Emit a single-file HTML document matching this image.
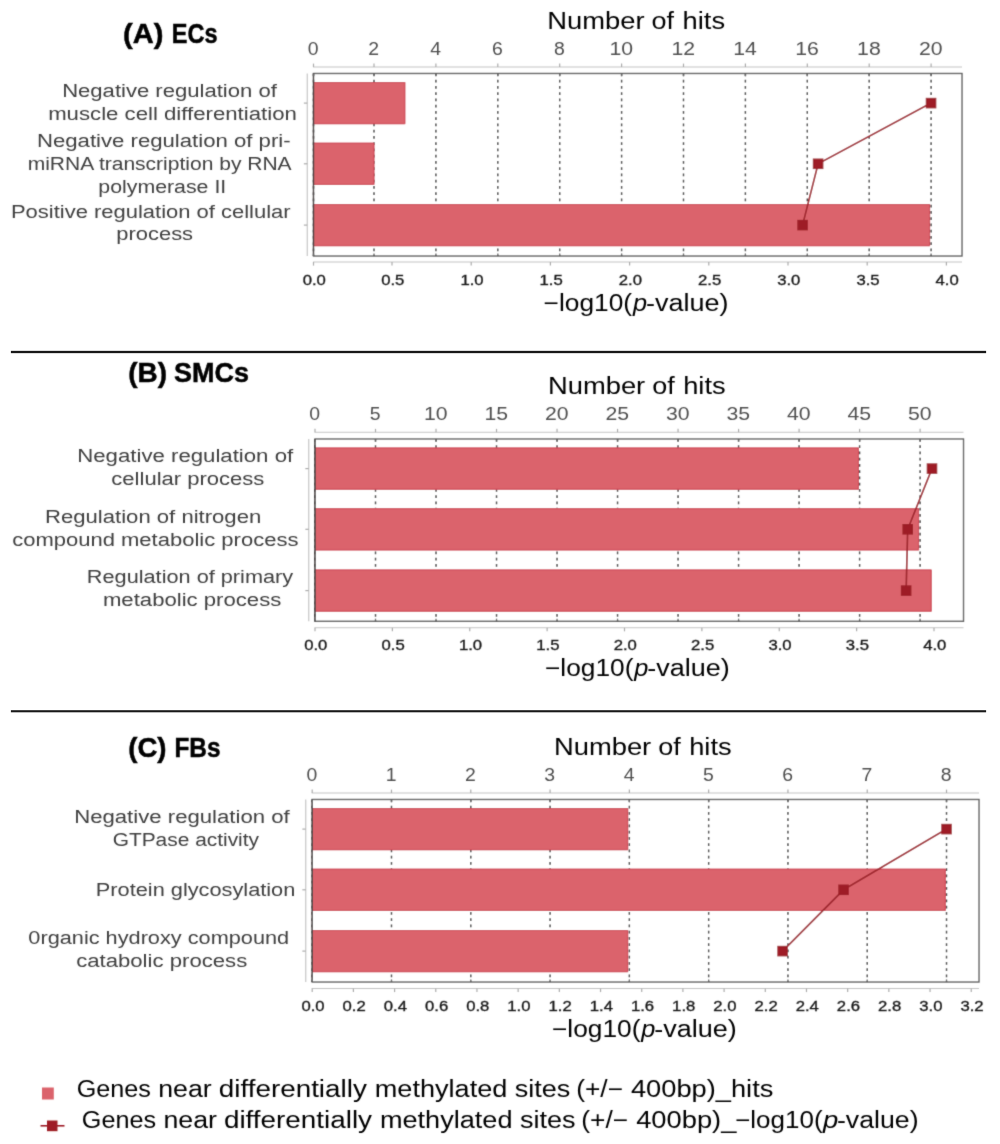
<!DOCTYPE html>
<html lang="en">
<head>
<meta charset="utf-8">
<title>GO enrichment: ECs, SMCs, FBs</title>
<style>
html,body{margin:0;padding:0;background:#fff;}
body{width:1000px;height:1144px;overflow:hidden;font-family:"Liberation Sans",sans-serif;}
svg{display:block;}
text{font-family:"Liberation Sans",sans-serif;white-space:pre;}
</style>
</head>
<body>
<svg width="1000" height="1144" viewBox="0 0 1000 1144" font-family="'Liberation Sans', sans-serif">
<defs><filter id="soft" filterUnits="userSpaceOnUse" x="0" y="0" width="1000" height="1144"><feConvolveMatrix order="3" kernelMatrix="0.02 0.09 0.02 0.09 0.56 0.09 0.02 0.09 0.02" divisor="1" edgeMode="none" preserveAlpha="false"/></filter></defs>
<rect width="1000" height="1144" fill="#fff"/>
<rect x="10.9" y="350.85" width="975.2" height="2.3" fill="#181818"/>
<rect x="10.9" y="710.2" width="975.2" height="2.1" fill="#181818"/>
<g filter="url(#soft)">
<rect x="313.5" y="73.5" width="648.5" height="182.5" fill="#fff"/>
<line x1="313.50" y1="73.5" x2="313.50" y2="256" stroke="#363636" stroke-width="1.45" stroke-dasharray="2.85 3.4"/>
<line x1="374.00" y1="73.5" x2="374.00" y2="256" stroke="#363636" stroke-width="1.45" stroke-dasharray="2.85 3.4"/>
<line x1="435.90" y1="73.5" x2="435.90" y2="256" stroke="#363636" stroke-width="1.45" stroke-dasharray="2.85 3.4"/>
<line x1="497.80" y1="73.5" x2="497.80" y2="256" stroke="#363636" stroke-width="1.45" stroke-dasharray="2.85 3.4"/>
<line x1="559.70" y1="73.5" x2="559.70" y2="256" stroke="#363636" stroke-width="1.45" stroke-dasharray="2.85 3.4"/>
<line x1="621.60" y1="73.5" x2="621.60" y2="256" stroke="#363636" stroke-width="1.45" stroke-dasharray="2.85 3.4"/>
<line x1="683.50" y1="73.5" x2="683.50" y2="256" stroke="#363636" stroke-width="1.45" stroke-dasharray="2.85 3.4"/>
<line x1="745.40" y1="73.5" x2="745.40" y2="256" stroke="#363636" stroke-width="1.45" stroke-dasharray="2.85 3.4"/>
<line x1="807.30" y1="73.5" x2="807.30" y2="256" stroke="#363636" stroke-width="1.45" stroke-dasharray="2.85 3.4"/>
<line x1="869.20" y1="73.5" x2="869.20" y2="256" stroke="#363636" stroke-width="1.45" stroke-dasharray="2.85 3.4"/>
<line x1="931.10" y1="73.5" x2="931.10" y2="256" stroke="#363636" stroke-width="1.45" stroke-dasharray="2.85 3.4"/>
<rect x="313.50" y="82.00" width="91.80" height="42.20" fill="#DB646C"/>
<path d="M313.50 82.50H404.80V123.70H313.50" fill="none" stroke="#CC3E50" stroke-width="1" opacity="0.85"/>
<rect x="313.50" y="142.70" width="60.90" height="42.20" fill="#DB646C"/>
<path d="M313.50 143.20H373.90V184.40H313.50" fill="none" stroke="#CC3E50" stroke-width="1" opacity="0.85"/>
<rect x="313.50" y="204.00" width="616.60" height="42.20" fill="#DB646C"/>
<path d="M313.50 204.50H929.60V245.70H313.50" fill="none" stroke="#CC3E50" stroke-width="1" opacity="0.85"/>
<rect x="313.5" y="73.5" width="648.5" height="182.5" fill="none" stroke="#626262" stroke-width="1.4"/>
<line x1="313.5" y1="73.5" x2="313.5" y2="256" stroke="#3a3030" stroke-width="1.2" opacity="0.75"/>
<line x1="313.0" y1="67" x2="962" y2="67" stroke="#C4C4C4" stroke-width="1.15"/>
<line x1="313.0" y1="262" x2="962" y2="262" stroke="#C4C4C4" stroke-width="1.15"/>
<line x1="307.25" y1="73.5" x2="307.25" y2="256" stroke="#C4C4C4" stroke-width="1.15"/>
<line x1="313.50" y1="63.6" x2="313.50" y2="67" stroke="#ACACAC" stroke-width="1.2"/>
<line x1="313.50" y1="73.5" x2="313.50" y2="76.1" stroke="#626262" stroke-width="1.3"/>
<line x1="313.50" y1="253.4" x2="313.50" y2="256" stroke="#626262" stroke-width="1.3"/>
<text x="313.20" y="55.40" font-size="19.2" fill="#505050" font-weight="normal" text-anchor="middle" textLength="10.80" lengthAdjust="spacingAndGlyphs">0</text>
<line x1="374.00" y1="63.6" x2="374.00" y2="67" stroke="#ACACAC" stroke-width="1.2"/>
<line x1="374.00" y1="73.5" x2="374.00" y2="76.1" stroke="#626262" stroke-width="1.3"/>
<line x1="374.00" y1="253.4" x2="374.00" y2="256" stroke="#626262" stroke-width="1.3"/>
<text x="373.70" y="55.40" font-size="19.2" fill="#505050" font-weight="normal" text-anchor="middle" textLength="10.80" lengthAdjust="spacingAndGlyphs">2</text>
<line x1="435.90" y1="63.6" x2="435.90" y2="67" stroke="#ACACAC" stroke-width="1.2"/>
<line x1="435.90" y1="73.5" x2="435.90" y2="76.1" stroke="#626262" stroke-width="1.3"/>
<line x1="435.90" y1="253.4" x2="435.90" y2="256" stroke="#626262" stroke-width="1.3"/>
<text x="435.60" y="55.40" font-size="19.2" fill="#505050" font-weight="normal" text-anchor="middle" textLength="10.80" lengthAdjust="spacingAndGlyphs">4</text>
<line x1="497.80" y1="63.6" x2="497.80" y2="67" stroke="#ACACAC" stroke-width="1.2"/>
<line x1="497.80" y1="73.5" x2="497.80" y2="76.1" stroke="#626262" stroke-width="1.3"/>
<line x1="497.80" y1="253.4" x2="497.80" y2="256" stroke="#626262" stroke-width="1.3"/>
<text x="497.50" y="55.40" font-size="19.2" fill="#505050" font-weight="normal" text-anchor="middle" textLength="10.80" lengthAdjust="spacingAndGlyphs">6</text>
<line x1="559.70" y1="63.6" x2="559.70" y2="67" stroke="#ACACAC" stroke-width="1.2"/>
<line x1="559.70" y1="73.5" x2="559.70" y2="76.1" stroke="#626262" stroke-width="1.3"/>
<line x1="559.70" y1="253.4" x2="559.70" y2="256" stroke="#626262" stroke-width="1.3"/>
<text x="559.40" y="55.40" font-size="19.2" fill="#505050" font-weight="normal" text-anchor="middle" textLength="10.80" lengthAdjust="spacingAndGlyphs">8</text>
<line x1="621.60" y1="63.6" x2="621.60" y2="67" stroke="#ACACAC" stroke-width="1.2"/>
<line x1="621.60" y1="73.5" x2="621.60" y2="76.1" stroke="#626262" stroke-width="1.3"/>
<line x1="621.60" y1="253.4" x2="621.60" y2="256" stroke="#626262" stroke-width="1.3"/>
<text x="621.30" y="55.40" font-size="19.2" fill="#505050" font-weight="normal" text-anchor="middle" textLength="23.60" lengthAdjust="spacingAndGlyphs">10</text>
<line x1="683.50" y1="63.6" x2="683.50" y2="67" stroke="#ACACAC" stroke-width="1.2"/>
<line x1="683.50" y1="73.5" x2="683.50" y2="76.1" stroke="#626262" stroke-width="1.3"/>
<line x1="683.50" y1="253.4" x2="683.50" y2="256" stroke="#626262" stroke-width="1.3"/>
<text x="683.20" y="55.40" font-size="19.2" fill="#505050" font-weight="normal" text-anchor="middle" textLength="23.60" lengthAdjust="spacingAndGlyphs">12</text>
<line x1="745.40" y1="63.6" x2="745.40" y2="67" stroke="#ACACAC" stroke-width="1.2"/>
<line x1="745.40" y1="73.5" x2="745.40" y2="76.1" stroke="#626262" stroke-width="1.3"/>
<line x1="745.40" y1="253.4" x2="745.40" y2="256" stroke="#626262" stroke-width="1.3"/>
<text x="745.10" y="55.40" font-size="19.2" fill="#505050" font-weight="normal" text-anchor="middle" textLength="23.60" lengthAdjust="spacingAndGlyphs">14</text>
<line x1="807.30" y1="63.6" x2="807.30" y2="67" stroke="#ACACAC" stroke-width="1.2"/>
<line x1="807.30" y1="73.5" x2="807.30" y2="76.1" stroke="#626262" stroke-width="1.3"/>
<line x1="807.30" y1="253.4" x2="807.30" y2="256" stroke="#626262" stroke-width="1.3"/>
<text x="807.00" y="55.40" font-size="19.2" fill="#505050" font-weight="normal" text-anchor="middle" textLength="23.60" lengthAdjust="spacingAndGlyphs">16</text>
<line x1="869.20" y1="63.6" x2="869.20" y2="67" stroke="#ACACAC" stroke-width="1.2"/>
<line x1="869.20" y1="73.5" x2="869.20" y2="76.1" stroke="#626262" stroke-width="1.3"/>
<line x1="869.20" y1="253.4" x2="869.20" y2="256" stroke="#626262" stroke-width="1.3"/>
<text x="868.90" y="55.40" font-size="19.2" fill="#505050" font-weight="normal" text-anchor="middle" textLength="23.60" lengthAdjust="spacingAndGlyphs">18</text>
<line x1="931.10" y1="63.6" x2="931.10" y2="67" stroke="#ACACAC" stroke-width="1.2"/>
<line x1="931.10" y1="73.5" x2="931.10" y2="76.1" stroke="#626262" stroke-width="1.3"/>
<line x1="931.10" y1="253.4" x2="931.10" y2="256" stroke="#626262" stroke-width="1.3"/>
<text x="930.80" y="55.40" font-size="19.2" fill="#505050" font-weight="normal" text-anchor="middle" textLength="23.60" lengthAdjust="spacingAndGlyphs">20</text>
<line x1="313.50" y1="262" x2="313.50" y2="265.6" stroke="#ACACAC" stroke-width="1.2"/>
<text x="314.30" y="285.00" font-size="14" fill="#1A1A1A" font-weight="normal" text-anchor="middle" textLength="23.20" lengthAdjust="spacingAndGlyphs" stroke="#1A1A1A" stroke-width="0.32">0.0</text>
<line x1="392.00" y1="262" x2="392.00" y2="265.6" stroke="#ACACAC" stroke-width="1.2"/>
<text x="392.80" y="285.00" font-size="14" fill="#1A1A1A" font-weight="normal" text-anchor="middle" textLength="23.20" lengthAdjust="spacingAndGlyphs" stroke="#1A1A1A" stroke-width="0.32">0.5</text>
<line x1="471.20" y1="262" x2="471.20" y2="265.6" stroke="#ACACAC" stroke-width="1.2"/>
<text x="472.00" y="285.00" font-size="14" fill="#1A1A1A" font-weight="normal" text-anchor="middle" textLength="23.20" lengthAdjust="spacingAndGlyphs" stroke="#1A1A1A" stroke-width="0.32">1.0</text>
<line x1="550.40" y1="262" x2="550.40" y2="265.6" stroke="#ACACAC" stroke-width="1.2"/>
<text x="551.20" y="285.00" font-size="14" fill="#1A1A1A" font-weight="normal" text-anchor="middle" textLength="23.20" lengthAdjust="spacingAndGlyphs" stroke="#1A1A1A" stroke-width="0.32">1.5</text>
<line x1="629.60" y1="262" x2="629.60" y2="265.6" stroke="#ACACAC" stroke-width="1.2"/>
<text x="630.40" y="285.00" font-size="14" fill="#1A1A1A" font-weight="normal" text-anchor="middle" textLength="23.20" lengthAdjust="spacingAndGlyphs" stroke="#1A1A1A" stroke-width="0.32">2.0</text>
<line x1="708.80" y1="262" x2="708.80" y2="265.6" stroke="#ACACAC" stroke-width="1.2"/>
<text x="709.60" y="285.00" font-size="14" fill="#1A1A1A" font-weight="normal" text-anchor="middle" textLength="23.20" lengthAdjust="spacingAndGlyphs" stroke="#1A1A1A" stroke-width="0.32">2.5</text>
<line x1="788.00" y1="262" x2="788.00" y2="265.6" stroke="#ACACAC" stroke-width="1.2"/>
<text x="788.80" y="285.00" font-size="14" fill="#1A1A1A" font-weight="normal" text-anchor="middle" textLength="23.20" lengthAdjust="spacingAndGlyphs" stroke="#1A1A1A" stroke-width="0.32">3.0</text>
<line x1="867.20" y1="262" x2="867.20" y2="265.6" stroke="#ACACAC" stroke-width="1.2"/>
<text x="868.00" y="285.00" font-size="14" fill="#1A1A1A" font-weight="normal" text-anchor="middle" textLength="23.20" lengthAdjust="spacingAndGlyphs" stroke="#1A1A1A" stroke-width="0.32">3.5</text>
<line x1="946.40" y1="262" x2="946.40" y2="265.6" stroke="#ACACAC" stroke-width="1.2"/>
<text x="947.20" y="285.00" font-size="14" fill="#1A1A1A" font-weight="normal" text-anchor="middle" textLength="23.20" lengthAdjust="spacingAndGlyphs" stroke="#1A1A1A" stroke-width="0.32">4.0</text>
<line x1="303.85" y1="103.10" x2="307.25" y2="103.10" stroke="#ACACAC" stroke-width="1.2"/>
<line x1="303.85" y1="163.80" x2="307.25" y2="163.80" stroke="#ACACAC" stroke-width="1.2"/>
<line x1="303.85" y1="225.10" x2="307.25" y2="225.10" stroke="#ACACAC" stroke-width="1.2"/>
<polyline points="931.04,103.10 818.10,163.80 802.57,225.10" fill="none" stroke="#A0252E" stroke-width="1.7"/>
<rect x="925.74" y="97.80" width="10.6" height="10.6" fill="#9E1F27"/>
<rect x="812.80" y="158.50" width="10.6" height="10.6" fill="#9E1F27"/>
<rect x="797.27" y="219.80" width="10.6" height="10.6" fill="#9E1F27"/>
<text x="123.14" y="42.60" font-size="28" fill="#000" font-weight="bold" textLength="40.32" lengthAdjust="spacingAndGlyphs" stroke="#000" stroke-width="0.5">(A)</text>
<text x="171.74" y="42.60" font-size="28" fill="#000" font-weight="bold" textLength="45.72" lengthAdjust="spacingAndGlyphs" stroke="#000" stroke-width="0.5">ECs</text>
<text x="547.35" y="29.30" font-size="23.3" fill="#000" font-weight="normal" textLength="97.30" lengthAdjust="spacingAndGlyphs">Number</text>
<text x="651.55" y="29.30" font-size="23.3" fill="#000" font-weight="normal" textLength="22.50" lengthAdjust="spacingAndGlyphs">of</text>
<text x="682.55" y="29.30" font-size="23.3" fill="#000" font-weight="normal" textLength="42.50" lengthAdjust="spacingAndGlyphs">hits</text>
<text x="543.55" y="311.00" font-size="23.3" fill="#000" font-weight="normal" textLength="88.50" lengthAdjust="spacingAndGlyphs">−log10(</text>
<text x="632.95" y="311.00" font-size="23.3" fill="#000" font-weight="normal" textLength="14.10" lengthAdjust="spacingAndGlyphs" font-style="italic">p</text>
<text x="645.95" y="311.00" font-size="23.3" fill="#000" font-weight="normal" textLength="82.50" lengthAdjust="spacingAndGlyphs">-value)</text>
<text x="62.15" y="97.00" font-size="18.8" fill="#404040" font-weight="normal" textLength="214.69" lengthAdjust="spacingAndGlyphs">Negative regulation of</text>
<text x="48.15" y="120.00" font-size="18.8" fill="#404040" font-weight="normal" textLength="248.69" lengthAdjust="spacingAndGlyphs">muscle cell differentiation</text>
<text x="36.95" y="147.30" font-size="18.8" fill="#404040" font-weight="normal" textLength="253.69" lengthAdjust="spacingAndGlyphs">Negative regulation of pri-</text>
<text x="27.65" y="170.00" font-size="18.8" fill="#404040" font-weight="normal" textLength="263.99" lengthAdjust="spacingAndGlyphs">miRNA transcription by RNA</text>
<text x="98.35" y="192.80" font-size="18.8" fill="#404040" font-weight="normal" textLength="127.89" lengthAdjust="spacingAndGlyphs">polymerase II</text>
<text x="10.95" y="218.00" font-size="18.8" fill="#404040" font-weight="normal" textLength="279.69" lengthAdjust="spacingAndGlyphs">Positive regulation of cellular</text>
<text x="116.35" y="240.30" font-size="18.8" fill="#404040" font-weight="normal" textLength="76.69" lengthAdjust="spacingAndGlyphs">process</text>
<rect x="315" y="439" width="648.5" height="182.25" fill="#fff"/>
<line x1="315.00" y1="439" x2="315.00" y2="621.25" stroke="#363636" stroke-width="1.45" stroke-dasharray="2.85 3.4"/>
<line x1="375.51" y1="439" x2="375.51" y2="621.25" stroke="#363636" stroke-width="1.45" stroke-dasharray="2.85 3.4"/>
<line x1="436.02" y1="439" x2="436.02" y2="621.25" stroke="#363636" stroke-width="1.45" stroke-dasharray="2.85 3.4"/>
<line x1="496.53" y1="439" x2="496.53" y2="621.25" stroke="#363636" stroke-width="1.45" stroke-dasharray="2.85 3.4"/>
<line x1="557.04" y1="439" x2="557.04" y2="621.25" stroke="#363636" stroke-width="1.45" stroke-dasharray="2.85 3.4"/>
<line x1="617.55" y1="439" x2="617.55" y2="621.25" stroke="#363636" stroke-width="1.45" stroke-dasharray="2.85 3.4"/>
<line x1="678.06" y1="439" x2="678.06" y2="621.25" stroke="#363636" stroke-width="1.45" stroke-dasharray="2.85 3.4"/>
<line x1="738.57" y1="439" x2="738.57" y2="621.25" stroke="#363636" stroke-width="1.45" stroke-dasharray="2.85 3.4"/>
<line x1="799.08" y1="439" x2="799.08" y2="621.25" stroke="#363636" stroke-width="1.45" stroke-dasharray="2.85 3.4"/>
<line x1="859.59" y1="439" x2="859.59" y2="621.25" stroke="#363636" stroke-width="1.45" stroke-dasharray="2.85 3.4"/>
<line x1="920.10" y1="439" x2="920.10" y2="621.25" stroke="#363636" stroke-width="1.45" stroke-dasharray="2.85 3.4"/>
<rect x="315.00" y="447.50" width="543.90" height="42.20" fill="#DB646C"/>
<path d="M315.00 448.00H858.40V489.20H315.00" fill="none" stroke="#CC3E50" stroke-width="1" opacity="0.85"/>
<rect x="315.00" y="508.20" width="604.10" height="42.20" fill="#DB646C"/>
<path d="M315.00 508.70H918.60V549.90H315.00" fill="none" stroke="#CC3E50" stroke-width="1" opacity="0.85"/>
<rect x="315.00" y="569.50" width="616.70" height="42.20" fill="#DB646C"/>
<path d="M315.00 570.00H931.20V611.20H315.00" fill="none" stroke="#CC3E50" stroke-width="1" opacity="0.85"/>
<rect x="315" y="439" width="648.5" height="182.25" fill="none" stroke="#626262" stroke-width="1.4"/>
<line x1="315" y1="439" x2="315" y2="621.25" stroke="#3a3030" stroke-width="1.2" opacity="0.75"/>
<line x1="314.5" y1="432.25" x2="963.5" y2="432.25" stroke="#C4C4C4" stroke-width="1.15"/>
<line x1="314.5" y1="627.75" x2="963.5" y2="627.75" stroke="#C4C4C4" stroke-width="1.15"/>
<line x1="308.75" y1="439" x2="308.75" y2="621.25" stroke="#C4C4C4" stroke-width="1.15"/>
<line x1="315.00" y1="428.85" x2="315.00" y2="432.25" stroke="#ACACAC" stroke-width="1.2"/>
<line x1="315.00" y1="439" x2="315.00" y2="441.6" stroke="#626262" stroke-width="1.3"/>
<line x1="315.00" y1="618.65" x2="315.00" y2="621.25" stroke="#626262" stroke-width="1.3"/>
<text x="314.70" y="420.40" font-size="19.2" fill="#505050" font-weight="normal" text-anchor="middle" textLength="10.80" lengthAdjust="spacingAndGlyphs">0</text>
<line x1="375.51" y1="428.85" x2="375.51" y2="432.25" stroke="#ACACAC" stroke-width="1.2"/>
<line x1="375.51" y1="439" x2="375.51" y2="441.6" stroke="#626262" stroke-width="1.3"/>
<line x1="375.51" y1="618.65" x2="375.51" y2="621.25" stroke="#626262" stroke-width="1.3"/>
<text x="375.21" y="420.40" font-size="19.2" fill="#505050" font-weight="normal" text-anchor="middle" textLength="10.80" lengthAdjust="spacingAndGlyphs">5</text>
<line x1="436.02" y1="428.85" x2="436.02" y2="432.25" stroke="#ACACAC" stroke-width="1.2"/>
<line x1="436.02" y1="439" x2="436.02" y2="441.6" stroke="#626262" stroke-width="1.3"/>
<line x1="436.02" y1="618.65" x2="436.02" y2="621.25" stroke="#626262" stroke-width="1.3"/>
<text x="435.72" y="420.40" font-size="19.2" fill="#505050" font-weight="normal" text-anchor="middle" textLength="23.60" lengthAdjust="spacingAndGlyphs">10</text>
<line x1="496.53" y1="428.85" x2="496.53" y2="432.25" stroke="#ACACAC" stroke-width="1.2"/>
<line x1="496.53" y1="439" x2="496.53" y2="441.6" stroke="#626262" stroke-width="1.3"/>
<line x1="496.53" y1="618.65" x2="496.53" y2="621.25" stroke="#626262" stroke-width="1.3"/>
<text x="496.23" y="420.40" font-size="19.2" fill="#505050" font-weight="normal" text-anchor="middle" textLength="23.60" lengthAdjust="spacingAndGlyphs">15</text>
<line x1="557.04" y1="428.85" x2="557.04" y2="432.25" stroke="#ACACAC" stroke-width="1.2"/>
<line x1="557.04" y1="439" x2="557.04" y2="441.6" stroke="#626262" stroke-width="1.3"/>
<line x1="557.04" y1="618.65" x2="557.04" y2="621.25" stroke="#626262" stroke-width="1.3"/>
<text x="556.74" y="420.40" font-size="19.2" fill="#505050" font-weight="normal" text-anchor="middle" textLength="23.60" lengthAdjust="spacingAndGlyphs">20</text>
<line x1="617.55" y1="428.85" x2="617.55" y2="432.25" stroke="#ACACAC" stroke-width="1.2"/>
<line x1="617.55" y1="439" x2="617.55" y2="441.6" stroke="#626262" stroke-width="1.3"/>
<line x1="617.55" y1="618.65" x2="617.55" y2="621.25" stroke="#626262" stroke-width="1.3"/>
<text x="617.25" y="420.40" font-size="19.2" fill="#505050" font-weight="normal" text-anchor="middle" textLength="23.60" lengthAdjust="spacingAndGlyphs">25</text>
<line x1="678.06" y1="428.85" x2="678.06" y2="432.25" stroke="#ACACAC" stroke-width="1.2"/>
<line x1="678.06" y1="439" x2="678.06" y2="441.6" stroke="#626262" stroke-width="1.3"/>
<line x1="678.06" y1="618.65" x2="678.06" y2="621.25" stroke="#626262" stroke-width="1.3"/>
<text x="677.76" y="420.40" font-size="19.2" fill="#505050" font-weight="normal" text-anchor="middle" textLength="23.60" lengthAdjust="spacingAndGlyphs">30</text>
<line x1="738.57" y1="428.85" x2="738.57" y2="432.25" stroke="#ACACAC" stroke-width="1.2"/>
<line x1="738.57" y1="439" x2="738.57" y2="441.6" stroke="#626262" stroke-width="1.3"/>
<line x1="738.57" y1="618.65" x2="738.57" y2="621.25" stroke="#626262" stroke-width="1.3"/>
<text x="738.27" y="420.40" font-size="19.2" fill="#505050" font-weight="normal" text-anchor="middle" textLength="23.60" lengthAdjust="spacingAndGlyphs">35</text>
<line x1="799.08" y1="428.85" x2="799.08" y2="432.25" stroke="#ACACAC" stroke-width="1.2"/>
<line x1="799.08" y1="439" x2="799.08" y2="441.6" stroke="#626262" stroke-width="1.3"/>
<line x1="799.08" y1="618.65" x2="799.08" y2="621.25" stroke="#626262" stroke-width="1.3"/>
<text x="798.78" y="420.40" font-size="19.2" fill="#505050" font-weight="normal" text-anchor="middle" textLength="23.60" lengthAdjust="spacingAndGlyphs">40</text>
<line x1="859.59" y1="428.85" x2="859.59" y2="432.25" stroke="#ACACAC" stroke-width="1.2"/>
<line x1="859.59" y1="439" x2="859.59" y2="441.6" stroke="#626262" stroke-width="1.3"/>
<line x1="859.59" y1="618.65" x2="859.59" y2="621.25" stroke="#626262" stroke-width="1.3"/>
<text x="859.29" y="420.40" font-size="19.2" fill="#505050" font-weight="normal" text-anchor="middle" textLength="23.60" lengthAdjust="spacingAndGlyphs">45</text>
<line x1="920.10" y1="428.85" x2="920.10" y2="432.25" stroke="#ACACAC" stroke-width="1.2"/>
<line x1="920.10" y1="439" x2="920.10" y2="441.6" stroke="#626262" stroke-width="1.3"/>
<line x1="920.10" y1="618.65" x2="920.10" y2="621.25" stroke="#626262" stroke-width="1.3"/>
<text x="919.80" y="420.40" font-size="19.2" fill="#505050" font-weight="normal" text-anchor="middle" textLength="23.60" lengthAdjust="spacingAndGlyphs">50</text>
<line x1="315.00" y1="627.75" x2="315.00" y2="631.35" stroke="#ACACAC" stroke-width="1.2"/>
<text x="315.80" y="650.00" font-size="14" fill="#1A1A1A" font-weight="normal" text-anchor="middle" textLength="23.20" lengthAdjust="spacingAndGlyphs" stroke="#1A1A1A" stroke-width="0.32">0.0</text>
<line x1="392.38" y1="627.75" x2="392.38" y2="631.35" stroke="#ACACAC" stroke-width="1.2"/>
<text x="393.18" y="650.00" font-size="14" fill="#1A1A1A" font-weight="normal" text-anchor="middle" textLength="23.20" lengthAdjust="spacingAndGlyphs" stroke="#1A1A1A" stroke-width="0.32">0.5</text>
<line x1="469.75" y1="627.75" x2="469.75" y2="631.35" stroke="#ACACAC" stroke-width="1.2"/>
<text x="470.55" y="650.00" font-size="14" fill="#1A1A1A" font-weight="normal" text-anchor="middle" textLength="23.20" lengthAdjust="spacingAndGlyphs" stroke="#1A1A1A" stroke-width="0.32">1.0</text>
<line x1="547.12" y1="627.75" x2="547.12" y2="631.35" stroke="#ACACAC" stroke-width="1.2"/>
<text x="547.92" y="650.00" font-size="14" fill="#1A1A1A" font-weight="normal" text-anchor="middle" textLength="23.20" lengthAdjust="spacingAndGlyphs" stroke="#1A1A1A" stroke-width="0.32">1.5</text>
<line x1="624.50" y1="627.75" x2="624.50" y2="631.35" stroke="#ACACAC" stroke-width="1.2"/>
<text x="625.30" y="650.00" font-size="14" fill="#1A1A1A" font-weight="normal" text-anchor="middle" textLength="23.20" lengthAdjust="spacingAndGlyphs" stroke="#1A1A1A" stroke-width="0.32">2.0</text>
<line x1="701.88" y1="627.75" x2="701.88" y2="631.35" stroke="#ACACAC" stroke-width="1.2"/>
<text x="702.67" y="650.00" font-size="14" fill="#1A1A1A" font-weight="normal" text-anchor="middle" textLength="23.20" lengthAdjust="spacingAndGlyphs" stroke="#1A1A1A" stroke-width="0.32">2.5</text>
<line x1="779.25" y1="627.75" x2="779.25" y2="631.35" stroke="#ACACAC" stroke-width="1.2"/>
<text x="780.05" y="650.00" font-size="14" fill="#1A1A1A" font-weight="normal" text-anchor="middle" textLength="23.20" lengthAdjust="spacingAndGlyphs" stroke="#1A1A1A" stroke-width="0.32">3.0</text>
<line x1="856.62" y1="627.75" x2="856.62" y2="631.35" stroke="#ACACAC" stroke-width="1.2"/>
<text x="857.42" y="650.00" font-size="14" fill="#1A1A1A" font-weight="normal" text-anchor="middle" textLength="23.20" lengthAdjust="spacingAndGlyphs" stroke="#1A1A1A" stroke-width="0.32">3.5</text>
<line x1="934.00" y1="627.75" x2="934.00" y2="631.35" stroke="#ACACAC" stroke-width="1.2"/>
<text x="934.80" y="650.00" font-size="14" fill="#1A1A1A" font-weight="normal" text-anchor="middle" textLength="23.20" lengthAdjust="spacingAndGlyphs" stroke="#1A1A1A" stroke-width="0.32">4.0</text>
<line x1="305.35" y1="468.60" x2="308.75" y2="468.60" stroke="#ACACAC" stroke-width="1.2"/>
<line x1="305.35" y1="529.30" x2="308.75" y2="529.30" stroke="#ACACAC" stroke-width="1.2"/>
<line x1="305.35" y1="590.60" x2="308.75" y2="590.60" stroke="#ACACAC" stroke-width="1.2"/>
<polyline points="931.99,468.60 907.69,529.30 906.14,590.60" fill="none" stroke="#A0252E" stroke-width="1.7"/>
<rect x="926.69" y="463.30" width="10.6" height="10.6" fill="#9E1F27"/>
<rect x="902.39" y="524.00" width="10.6" height="10.6" fill="#9E1F27"/>
<rect x="900.85" y="585.30" width="10.6" height="10.6" fill="#9E1F27"/>
<text x="128.24" y="381.80" font-size="28" fill="#000" font-weight="bold" textLength="38.72" lengthAdjust="spacingAndGlyphs" stroke="#000" stroke-width="0.5">(B)</text>
<text x="174.04" y="381.80" font-size="28" fill="#000" font-weight="bold" textLength="74.92" lengthAdjust="spacingAndGlyphs" stroke="#000" stroke-width="0.5">SMCs</text>
<text x="547.95" y="394.30" font-size="23.3" fill="#000" font-weight="normal" textLength="97.30" lengthAdjust="spacingAndGlyphs">Number</text>
<text x="652.15" y="394.30" font-size="23.3" fill="#000" font-weight="normal" textLength="22.50" lengthAdjust="spacingAndGlyphs">of</text>
<text x="683.15" y="394.30" font-size="23.3" fill="#000" font-weight="normal" textLength="42.50" lengthAdjust="spacingAndGlyphs">hits</text>
<text x="544.95" y="676.00" font-size="23.3" fill="#000" font-weight="normal" textLength="88.50" lengthAdjust="spacingAndGlyphs">−log10(</text>
<text x="634.35" y="676.00" font-size="23.3" fill="#000" font-weight="normal" textLength="14.10" lengthAdjust="spacingAndGlyphs" font-style="italic">p</text>
<text x="647.35" y="676.00" font-size="23.3" fill="#000" font-weight="normal" textLength="82.50" lengthAdjust="spacingAndGlyphs">-value)</text>
<text x="77.25" y="462.30" font-size="18.8" fill="#404040" font-weight="normal" textLength="215.89" lengthAdjust="spacingAndGlyphs">Negative regulation of</text>
<text x="111.35" y="485.20" font-size="18.8" fill="#404040" font-weight="normal" textLength="152.99" lengthAdjust="spacingAndGlyphs">cellular process</text>
<text x="45.05" y="522.70" font-size="18.8" fill="#404040" font-weight="normal" textLength="216.19" lengthAdjust="spacingAndGlyphs">Regulation of nitrogen</text>
<text x="12.15" y="545.70" font-size="18.8" fill="#404040" font-weight="normal" textLength="286.29" lengthAdjust="spacingAndGlyphs">compound metabolic process</text>
<text x="86.85" y="583.20" font-size="18.8" fill="#404040" font-weight="normal" textLength="206.29" lengthAdjust="spacingAndGlyphs">Regulation of primary</text>
<text x="102.95" y="606.00" font-size="18.8" fill="#404040" font-weight="normal" textLength="178.39" lengthAdjust="spacingAndGlyphs">metabolic process</text>
<rect x="312.2" y="799.5" width="666.8" height="182.5" fill="#fff"/>
<line x1="312.20" y1="799.5" x2="312.20" y2="982" stroke="#363636" stroke-width="1.45" stroke-dasharray="2.85 3.4"/>
<line x1="391.49" y1="799.5" x2="391.49" y2="982" stroke="#363636" stroke-width="1.45" stroke-dasharray="2.85 3.4"/>
<line x1="470.78" y1="799.5" x2="470.78" y2="982" stroke="#363636" stroke-width="1.45" stroke-dasharray="2.85 3.4"/>
<line x1="550.07" y1="799.5" x2="550.07" y2="982" stroke="#363636" stroke-width="1.45" stroke-dasharray="2.85 3.4"/>
<line x1="629.36" y1="799.5" x2="629.36" y2="982" stroke="#363636" stroke-width="1.45" stroke-dasharray="2.85 3.4"/>
<line x1="708.65" y1="799.5" x2="708.65" y2="982" stroke="#363636" stroke-width="1.45" stroke-dasharray="2.85 3.4"/>
<line x1="787.94" y1="799.5" x2="787.94" y2="982" stroke="#363636" stroke-width="1.45" stroke-dasharray="2.85 3.4"/>
<line x1="867.23" y1="799.5" x2="867.23" y2="982" stroke="#363636" stroke-width="1.45" stroke-dasharray="2.85 3.4"/>
<line x1="946.52" y1="799.5" x2="946.52" y2="982" stroke="#363636" stroke-width="1.45" stroke-dasharray="2.85 3.4"/>
<rect x="312.20" y="808.00" width="316.00" height="42.20" fill="#DB646C"/>
<path d="M312.20 808.50H627.70V849.70H312.20" fill="none" stroke="#CC3E50" stroke-width="1" opacity="0.85"/>
<rect x="312.20" y="868.70" width="633.60" height="42.20" fill="#DB646C"/>
<path d="M312.20 869.20H945.30V910.40H312.20" fill="none" stroke="#CC3E50" stroke-width="1" opacity="0.85"/>
<rect x="312.20" y="930.00" width="316.00" height="42.20" fill="#DB646C"/>
<path d="M312.20 930.50H627.70V971.70H312.20" fill="none" stroke="#CC3E50" stroke-width="1" opacity="0.85"/>
<rect x="312.2" y="799.5" width="666.8" height="182.5" fill="none" stroke="#626262" stroke-width="1.4"/>
<line x1="312.2" y1="799.5" x2="312.2" y2="982" stroke="#3a3030" stroke-width="1.2" opacity="0.75"/>
<line x1="311.7" y1="793" x2="979" y2="793" stroke="#C4C4C4" stroke-width="1.15"/>
<line x1="311.7" y1="988.5" x2="979" y2="988.5" stroke="#C4C4C4" stroke-width="1.15"/>
<line x1="305.75" y1="799.5" x2="305.75" y2="982" stroke="#C4C4C4" stroke-width="1.15"/>
<line x1="312.20" y1="789.6" x2="312.20" y2="793" stroke="#ACACAC" stroke-width="1.2"/>
<line x1="312.20" y1="799.5" x2="312.20" y2="802.1" stroke="#626262" stroke-width="1.3"/>
<line x1="312.20" y1="979.4" x2="312.20" y2="982" stroke="#626262" stroke-width="1.3"/>
<text x="311.90" y="781.20" font-size="19.2" fill="#505050" font-weight="normal" text-anchor="middle" textLength="10.80" lengthAdjust="spacingAndGlyphs">0</text>
<line x1="391.49" y1="789.6" x2="391.49" y2="793" stroke="#ACACAC" stroke-width="1.2"/>
<line x1="391.49" y1="799.5" x2="391.49" y2="802.1" stroke="#626262" stroke-width="1.3"/>
<line x1="391.49" y1="979.4" x2="391.49" y2="982" stroke="#626262" stroke-width="1.3"/>
<text x="391.19" y="781.20" font-size="19.2" fill="#505050" font-weight="normal" text-anchor="middle" textLength="10.80" lengthAdjust="spacingAndGlyphs">1</text>
<line x1="470.78" y1="789.6" x2="470.78" y2="793" stroke="#ACACAC" stroke-width="1.2"/>
<line x1="470.78" y1="799.5" x2="470.78" y2="802.1" stroke="#626262" stroke-width="1.3"/>
<line x1="470.78" y1="979.4" x2="470.78" y2="982" stroke="#626262" stroke-width="1.3"/>
<text x="470.48" y="781.20" font-size="19.2" fill="#505050" font-weight="normal" text-anchor="middle" textLength="10.80" lengthAdjust="spacingAndGlyphs">2</text>
<line x1="550.07" y1="789.6" x2="550.07" y2="793" stroke="#ACACAC" stroke-width="1.2"/>
<line x1="550.07" y1="799.5" x2="550.07" y2="802.1" stroke="#626262" stroke-width="1.3"/>
<line x1="550.07" y1="979.4" x2="550.07" y2="982" stroke="#626262" stroke-width="1.3"/>
<text x="549.77" y="781.20" font-size="19.2" fill="#505050" font-weight="normal" text-anchor="middle" textLength="10.80" lengthAdjust="spacingAndGlyphs">3</text>
<line x1="629.36" y1="789.6" x2="629.36" y2="793" stroke="#ACACAC" stroke-width="1.2"/>
<line x1="629.36" y1="799.5" x2="629.36" y2="802.1" stroke="#626262" stroke-width="1.3"/>
<line x1="629.36" y1="979.4" x2="629.36" y2="982" stroke="#626262" stroke-width="1.3"/>
<text x="629.06" y="781.20" font-size="19.2" fill="#505050" font-weight="normal" text-anchor="middle" textLength="10.80" lengthAdjust="spacingAndGlyphs">4</text>
<line x1="708.65" y1="789.6" x2="708.65" y2="793" stroke="#ACACAC" stroke-width="1.2"/>
<line x1="708.65" y1="799.5" x2="708.65" y2="802.1" stroke="#626262" stroke-width="1.3"/>
<line x1="708.65" y1="979.4" x2="708.65" y2="982" stroke="#626262" stroke-width="1.3"/>
<text x="708.35" y="781.20" font-size="19.2" fill="#505050" font-weight="normal" text-anchor="middle" textLength="10.80" lengthAdjust="spacingAndGlyphs">5</text>
<line x1="787.94" y1="789.6" x2="787.94" y2="793" stroke="#ACACAC" stroke-width="1.2"/>
<line x1="787.94" y1="799.5" x2="787.94" y2="802.1" stroke="#626262" stroke-width="1.3"/>
<line x1="787.94" y1="979.4" x2="787.94" y2="982" stroke="#626262" stroke-width="1.3"/>
<text x="787.64" y="781.20" font-size="19.2" fill="#505050" font-weight="normal" text-anchor="middle" textLength="10.80" lengthAdjust="spacingAndGlyphs">6</text>
<line x1="867.23" y1="789.6" x2="867.23" y2="793" stroke="#ACACAC" stroke-width="1.2"/>
<line x1="867.23" y1="799.5" x2="867.23" y2="802.1" stroke="#626262" stroke-width="1.3"/>
<line x1="867.23" y1="979.4" x2="867.23" y2="982" stroke="#626262" stroke-width="1.3"/>
<text x="866.93" y="781.20" font-size="19.2" fill="#505050" font-weight="normal" text-anchor="middle" textLength="10.80" lengthAdjust="spacingAndGlyphs">7</text>
<line x1="946.52" y1="789.6" x2="946.52" y2="793" stroke="#ACACAC" stroke-width="1.2"/>
<line x1="946.52" y1="799.5" x2="946.52" y2="802.1" stroke="#626262" stroke-width="1.3"/>
<line x1="946.52" y1="979.4" x2="946.52" y2="982" stroke="#626262" stroke-width="1.3"/>
<text x="946.22" y="781.20" font-size="19.2" fill="#505050" font-weight="normal" text-anchor="middle" textLength="10.80" lengthAdjust="spacingAndGlyphs">8</text>
<line x1="312.20" y1="988.5" x2="312.20" y2="992.1" stroke="#ACACAC" stroke-width="1.2"/>
<text x="313.00" y="1010.60" font-size="14" fill="#1A1A1A" font-weight="normal" text-anchor="middle" textLength="23.20" lengthAdjust="spacingAndGlyphs" stroke="#1A1A1A" stroke-width="0.32">0.0</text>
<line x1="353.39" y1="988.5" x2="353.39" y2="992.1" stroke="#ACACAC" stroke-width="1.2"/>
<text x="354.19" y="1010.60" font-size="14" fill="#1A1A1A" font-weight="normal" text-anchor="middle" textLength="23.20" lengthAdjust="spacingAndGlyphs" stroke="#1A1A1A" stroke-width="0.32">0.2</text>
<line x1="394.58" y1="988.5" x2="394.58" y2="992.1" stroke="#ACACAC" stroke-width="1.2"/>
<text x="395.38" y="1010.60" font-size="14" fill="#1A1A1A" font-weight="normal" text-anchor="middle" textLength="23.20" lengthAdjust="spacingAndGlyphs" stroke="#1A1A1A" stroke-width="0.32">0.4</text>
<line x1="435.77" y1="988.5" x2="435.77" y2="992.1" stroke="#ACACAC" stroke-width="1.2"/>
<text x="436.57" y="1010.60" font-size="14" fill="#1A1A1A" font-weight="normal" text-anchor="middle" textLength="23.20" lengthAdjust="spacingAndGlyphs" stroke="#1A1A1A" stroke-width="0.32">0.6</text>
<line x1="476.96" y1="988.5" x2="476.96" y2="992.1" stroke="#ACACAC" stroke-width="1.2"/>
<text x="477.76" y="1010.60" font-size="14" fill="#1A1A1A" font-weight="normal" text-anchor="middle" textLength="23.20" lengthAdjust="spacingAndGlyphs" stroke="#1A1A1A" stroke-width="0.32">0.8</text>
<line x1="518.15" y1="988.5" x2="518.15" y2="992.1" stroke="#ACACAC" stroke-width="1.2"/>
<text x="518.95" y="1010.60" font-size="14" fill="#1A1A1A" font-weight="normal" text-anchor="middle" textLength="23.20" lengthAdjust="spacingAndGlyphs" stroke="#1A1A1A" stroke-width="0.32">1.0</text>
<line x1="559.34" y1="988.5" x2="559.34" y2="992.1" stroke="#ACACAC" stroke-width="1.2"/>
<text x="560.14" y="1010.60" font-size="14" fill="#1A1A1A" font-weight="normal" text-anchor="middle" textLength="23.20" lengthAdjust="spacingAndGlyphs" stroke="#1A1A1A" stroke-width="0.32">1.2</text>
<line x1="600.53" y1="988.5" x2="600.53" y2="992.1" stroke="#ACACAC" stroke-width="1.2"/>
<text x="601.33" y="1010.60" font-size="14" fill="#1A1A1A" font-weight="normal" text-anchor="middle" textLength="23.20" lengthAdjust="spacingAndGlyphs" stroke="#1A1A1A" stroke-width="0.32">1.4</text>
<line x1="641.72" y1="988.5" x2="641.72" y2="992.1" stroke="#ACACAC" stroke-width="1.2"/>
<text x="642.52" y="1010.60" font-size="14" fill="#1A1A1A" font-weight="normal" text-anchor="middle" textLength="23.20" lengthAdjust="spacingAndGlyphs" stroke="#1A1A1A" stroke-width="0.32">1.6</text>
<line x1="682.91" y1="988.5" x2="682.91" y2="992.1" stroke="#ACACAC" stroke-width="1.2"/>
<text x="683.71" y="1010.60" font-size="14" fill="#1A1A1A" font-weight="normal" text-anchor="middle" textLength="23.20" lengthAdjust="spacingAndGlyphs" stroke="#1A1A1A" stroke-width="0.32">1.8</text>
<line x1="724.10" y1="988.5" x2="724.10" y2="992.1" stroke="#ACACAC" stroke-width="1.2"/>
<text x="724.90" y="1010.60" font-size="14" fill="#1A1A1A" font-weight="normal" text-anchor="middle" textLength="23.20" lengthAdjust="spacingAndGlyphs" stroke="#1A1A1A" stroke-width="0.32">2.0</text>
<line x1="765.29" y1="988.5" x2="765.29" y2="992.1" stroke="#ACACAC" stroke-width="1.2"/>
<text x="766.09" y="1010.60" font-size="14" fill="#1A1A1A" font-weight="normal" text-anchor="middle" textLength="23.20" lengthAdjust="spacingAndGlyphs" stroke="#1A1A1A" stroke-width="0.32">2.2</text>
<line x1="806.48" y1="988.5" x2="806.48" y2="992.1" stroke="#ACACAC" stroke-width="1.2"/>
<text x="807.28" y="1010.60" font-size="14" fill="#1A1A1A" font-weight="normal" text-anchor="middle" textLength="23.20" lengthAdjust="spacingAndGlyphs" stroke="#1A1A1A" stroke-width="0.32">2.4</text>
<line x1="847.67" y1="988.5" x2="847.67" y2="992.1" stroke="#ACACAC" stroke-width="1.2"/>
<text x="848.47" y="1010.60" font-size="14" fill="#1A1A1A" font-weight="normal" text-anchor="middle" textLength="23.20" lengthAdjust="spacingAndGlyphs" stroke="#1A1A1A" stroke-width="0.32">2.6</text>
<line x1="888.86" y1="988.5" x2="888.86" y2="992.1" stroke="#ACACAC" stroke-width="1.2"/>
<text x="889.66" y="1010.60" font-size="14" fill="#1A1A1A" font-weight="normal" text-anchor="middle" textLength="23.20" lengthAdjust="spacingAndGlyphs" stroke="#1A1A1A" stroke-width="0.32">2.8</text>
<line x1="930.05" y1="988.5" x2="930.05" y2="992.1" stroke="#ACACAC" stroke-width="1.2"/>
<text x="930.85" y="1010.60" font-size="14" fill="#1A1A1A" font-weight="normal" text-anchor="middle" textLength="23.20" lengthAdjust="spacingAndGlyphs" stroke="#1A1A1A" stroke-width="0.32">3.0</text>
<line x1="971.24" y1="988.5" x2="971.24" y2="992.1" stroke="#ACACAC" stroke-width="1.2"/>
<text x="972.04" y="1010.60" font-size="14" fill="#1A1A1A" font-weight="normal" text-anchor="middle" textLength="23.20" lengthAdjust="spacingAndGlyphs" stroke="#1A1A1A" stroke-width="0.32">3.2</text>
<line x1="302.35" y1="829.10" x2="305.75" y2="829.10" stroke="#ACACAC" stroke-width="1.2"/>
<line x1="302.35" y1="889.80" x2="305.75" y2="889.80" stroke="#ACACAC" stroke-width="1.2"/>
<line x1="302.35" y1="951.10" x2="305.75" y2="951.10" stroke="#ACACAC" stroke-width="1.2"/>
<polyline points="946.53,829.10 843.55,889.80 782.59,951.10" fill="none" stroke="#A0252E" stroke-width="1.7"/>
<rect x="941.23" y="823.80" width="10.6" height="10.6" fill="#9E1F27"/>
<rect x="838.25" y="884.50" width="10.6" height="10.6" fill="#9E1F27"/>
<rect x="777.29" y="945.80" width="10.6" height="10.6" fill="#9E1F27"/>
<text x="128.24" y="757.20" font-size="28" fill="#000" font-weight="bold" textLength="38.22" lengthAdjust="spacingAndGlyphs" stroke="#000" stroke-width="0.5">(C)</text>
<text x="174.44" y="757.20" font-size="28" fill="#000" font-weight="bold" textLength="46.02" lengthAdjust="spacingAndGlyphs" stroke="#000" stroke-width="0.5">FBs</text>
<text x="553.95" y="755.30" font-size="23.3" fill="#000" font-weight="normal" textLength="97.30" lengthAdjust="spacingAndGlyphs">Number</text>
<text x="658.15" y="755.30" font-size="23.3" fill="#000" font-weight="normal" textLength="22.50" lengthAdjust="spacingAndGlyphs">of</text>
<text x="689.15" y="755.30" font-size="23.3" fill="#000" font-weight="normal" textLength="42.50" lengthAdjust="spacingAndGlyphs">hits</text>
<text x="551.95" y="1037.00" font-size="23.3" fill="#000" font-weight="normal" textLength="88.50" lengthAdjust="spacingAndGlyphs">−log10(</text>
<text x="641.35" y="1037.00" font-size="23.3" fill="#000" font-weight="normal" textLength="14.10" lengthAdjust="spacingAndGlyphs" font-style="italic">p</text>
<text x="654.35" y="1037.00" font-size="23.3" fill="#000" font-weight="normal" textLength="82.50" lengthAdjust="spacingAndGlyphs">-value)</text>
<text x="74.15" y="823.00" font-size="18.8" fill="#404040" font-weight="normal" textLength="215.59" lengthAdjust="spacingAndGlyphs">Negative regulation of</text>
<text x="112.65" y="845.80" font-size="18.8" fill="#404040" font-weight="normal" textLength="146.39" lengthAdjust="spacingAndGlyphs">GTPase activity</text>
<text x="95.85" y="895.70" font-size="18.8" fill="#404040" font-weight="normal" textLength="199.49" lengthAdjust="spacingAndGlyphs">Protein glycosylation</text>
<text x="28.35" y="943.70" font-size="18.8" fill="#404040" font-weight="normal" textLength="260.79" lengthAdjust="spacingAndGlyphs">0rganic hydroxy compound</text>
<text x="76.15" y="966.80" font-size="18.8" fill="#404040" font-weight="normal" textLength="171.09" lengthAdjust="spacingAndGlyphs">catabolic process</text>
<rect x="42" y="1087.5" width="11.8" height="12" fill="#DB646C"/>
<text x="76.65" y="1097.30" font-size="23.3" fill="#000" font-weight="normal" textLength="74.20" lengthAdjust="spacingAndGlyphs">Genes</text>
<text x="158.25" y="1097.30" font-size="23.3" fill="#000" font-weight="normal" textLength="53.50" lengthAdjust="spacingAndGlyphs">near</text>
<text x="218.75" y="1097.30" font-size="23.3" fill="#000" font-weight="normal" textLength="148.10" lengthAdjust="spacingAndGlyphs">differentially</text>
<text x="374.75" y="1097.30" font-size="23.3" fill="#000" font-weight="normal" textLength="132.60" lengthAdjust="spacingAndGlyphs">methylated</text>
<text x="514.75" y="1097.30" font-size="23.3" fill="#000" font-weight="normal" textLength="55.60" lengthAdjust="spacingAndGlyphs">sites</text>
<text x="576.15" y="1097.30" font-size="23.3" fill="#000" font-weight="normal" textLength="46.90" lengthAdjust="spacingAndGlyphs">(+/−</text>
<text x="630.95" y="1097.30" font-size="23.3" fill="#000" font-weight="normal" textLength="142.40" lengthAdjust="spacingAndGlyphs">400bp)_hits</text>
<line x1="40.5" y1="1125.8" x2="64.5" y2="1125.8" stroke="#9E1F27" stroke-width="1.6"/>
<rect x="47" y="1120.5" width="10.5" height="10.7" fill="#9E1F27"/>
<text x="81.85" y="1128.00" font-size="23.3" fill="#000" font-weight="normal" textLength="74.20" lengthAdjust="spacingAndGlyphs">Genes</text>
<text x="163.45" y="1128.00" font-size="23.3" fill="#000" font-weight="normal" textLength="53.50" lengthAdjust="spacingAndGlyphs">near</text>
<text x="223.95" y="1128.00" font-size="23.3" fill="#000" font-weight="normal" textLength="148.10" lengthAdjust="spacingAndGlyphs">differentially</text>
<text x="379.95" y="1128.00" font-size="23.3" fill="#000" font-weight="normal" textLength="132.60" lengthAdjust="spacingAndGlyphs">methylated</text>
<text x="519.95" y="1128.00" font-size="23.3" fill="#000" font-weight="normal" textLength="55.60" lengthAdjust="spacingAndGlyphs">sites</text>
<text x="581.35" y="1128.00" font-size="23.3" fill="#000" font-weight="normal" textLength="46.90" lengthAdjust="spacingAndGlyphs">(+/−</text>
<text x="636.15" y="1128.00" font-size="23.3" fill="#000" font-weight="normal" textLength="100.20" lengthAdjust="spacingAndGlyphs">400bp)_</text>
<text x="735.15" y="1128.00" font-size="23.3" fill="#000" font-weight="normal" textLength="87.40" lengthAdjust="spacingAndGlyphs">−log10(</text>
<text x="822.95" y="1128.00" font-size="23.3" fill="#000" font-weight="normal" textLength="15.30" lengthAdjust="spacingAndGlyphs" font-style="italic">p</text>
<text x="836.95" y="1128.00" font-size="23.3" fill="#000" font-weight="normal" textLength="81.60" lengthAdjust="spacingAndGlyphs">-value)</text>
</g>
</svg>
</body>
</html>
